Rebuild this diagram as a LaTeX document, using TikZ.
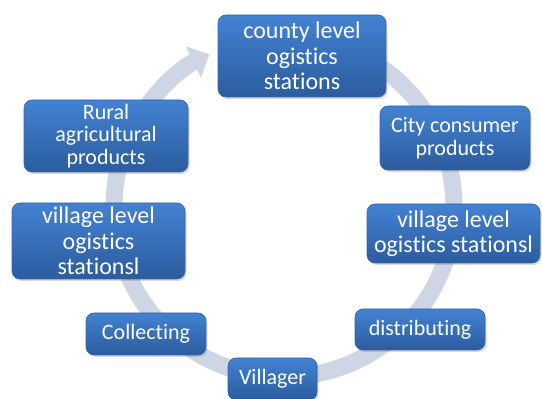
\documentclass[tikz,border=0pt]{standalone}
\usepackage{fontspec}
\setmainfont{Carlito}[Ligatures=NoCommon]
\usetikzlibrary{arrows.meta,shadows,calc}
\definecolor{boxtop}{HTML}{4382D2}
\definecolor{boxbot}{HTML}{2B5C9E}
\definecolor{boxline}{HTML}{3465A8}
\definecolor{ringc}{HTML}{CED6E6}
\begin{document}
\begin{tikzpicture}[x=1pt,y=1pt,
  stagebox/.style={rounded corners=8pt, top color=boxtop, bottom color=boxbot,
    draw=boxline, line width=0.6pt, text=white, align=center, inner sep=0pt,
    drop shadow={opacity=0.3, shadow xshift=1.5pt, shadow yshift=-2pt, fill=gray}},
  bigtxt/.style={font=\fontsize{24}{25.5}\selectfont},
  smalltxt/.style={font=\fontsize{22}{22.5}\selectfont},
  ringarrow/.style={draw=ringc, line width=17pt, -{Triangle[width=34pt,length=18pt]}}]
\useasboundingbox (0,0) rectangle (542,399);
\coordinate (c) at (284,192);
\coordinate (tail) at ($(c)+(60:170pt)$);
\draw[ringarrow] (tail) arc[start angle=60, end angle=-244, radius=170pt];
\node[stagebox, bigtxt, minimum width=168, minimum height=82] (county) at (302,343) {county level\\ogistics\\stations};
\node[stagebox, smalltxt, minimum width=164, minimum height=72] (rural) at (106,263) {Rural\\agricultural\\products};
\node[stagebox, smalltxt, minimum width=150, minimum height=64] (city) at (455,261) {City consumer\\products};
\node[stagebox, bigtxt, minimum width=173, minimum height=76] (vleft) at (98.5,158) {village level\\ogistics\\stationsl};
\node[stagebox, bigtxt, minimum width=173, minimum height=59] (vright) at (453.5,165.5) {village level\\ogistics stationsl};
\node[stagebox, smalltxt, minimum width=120, minimum height=42] (collect) at (146,65) {Collecting};
\node[stagebox, smalltxt, minimum width=130, minimum height=41] (distrib) at (420,69.5) {distributing};
\node[stagebox, smalltxt, minimum width=89, minimum height=42] (villager) at (272.5,20) {Villager};
\end{tikzpicture}
\end{document}
